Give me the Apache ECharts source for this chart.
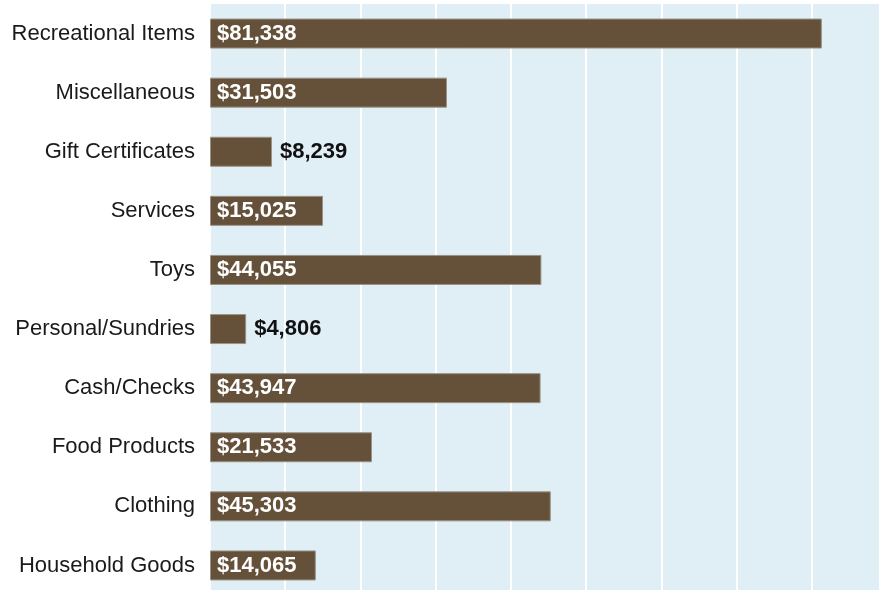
<!DOCTYPE html>
<html>
<head>
<meta charset="utf-8">
<script src="https://cdn.jsdelivr.net/npm/echarts@6/dist/echarts.min.js"></script>
<style>
html,body{margin:0;padding:0;background:#fff;}
#chart{width:879px;height:590px;}
</style>
</head>
<body>
<div id="chart"></div>
<script>
const categories = ["Recreational Items","Miscellaneous","Gift Certificates","Services","Toys","Personal/Sundries","Cash/Checks","Food Products","Clothing","Household Goods"];
const values = [81338,31503,8239,15025,44055,4806,43947,21533,45303,14065];
const outsideLabelBelow = 10000;

const chart = echarts.init(document.getElementById('chart'), null, {renderer:'canvas'});
const fmt = v => '$' + v.toLocaleString('en-US');

const seriesData = values.map(v => {
  const outside = v < outsideLabelBelow;
  return {
    value: v,
    label: outside
      ? {position:'right', distance:8, color:'#111111'}
      : {position:'insideLeft', distance:7, color:'#ffffff'}
  };
});

chart.setOption({
  animation:false,
  backgroundColor:'#ffffff',
  grid:{left:210, top:4, right:-8, bottom:-5, outerBoundsMode:'none', show:true, backgroundColor:'#e0eef6', borderWidth:0, containLabel:false},
  xAxis:{
    type:'value', min:0, max:90000, interval:10000,
    axisLine:{show:false}, axisTick:{show:false}, axisLabel:{show:false},
    splitLine:{show:true, lineStyle:{color:'#ffffff', width:2}}
  },
  yAxis:{
    type:'category', data:categories, inverse:true,
    axisLine:{show:false}, axisTick:{show:false},
    axisLabel:{color:'#1a1a1a', fontSize:22, fontFamily:'Liberation Sans, Arial, sans-serif', margin:15}
  },
  series:[{
    type:'bar', data:seriesData, barWidth:30,
    itemStyle:{color:'#65513a', borderColor:'#9b9284', borderWidth:1},
    label:{show:true, formatter:p => fmt(p.value), fontSize:22, fontWeight:'bold', fontFamily:'Liberation Sans, Arial, sans-serif'}
  }]
});
</script>
</body>
</html>
